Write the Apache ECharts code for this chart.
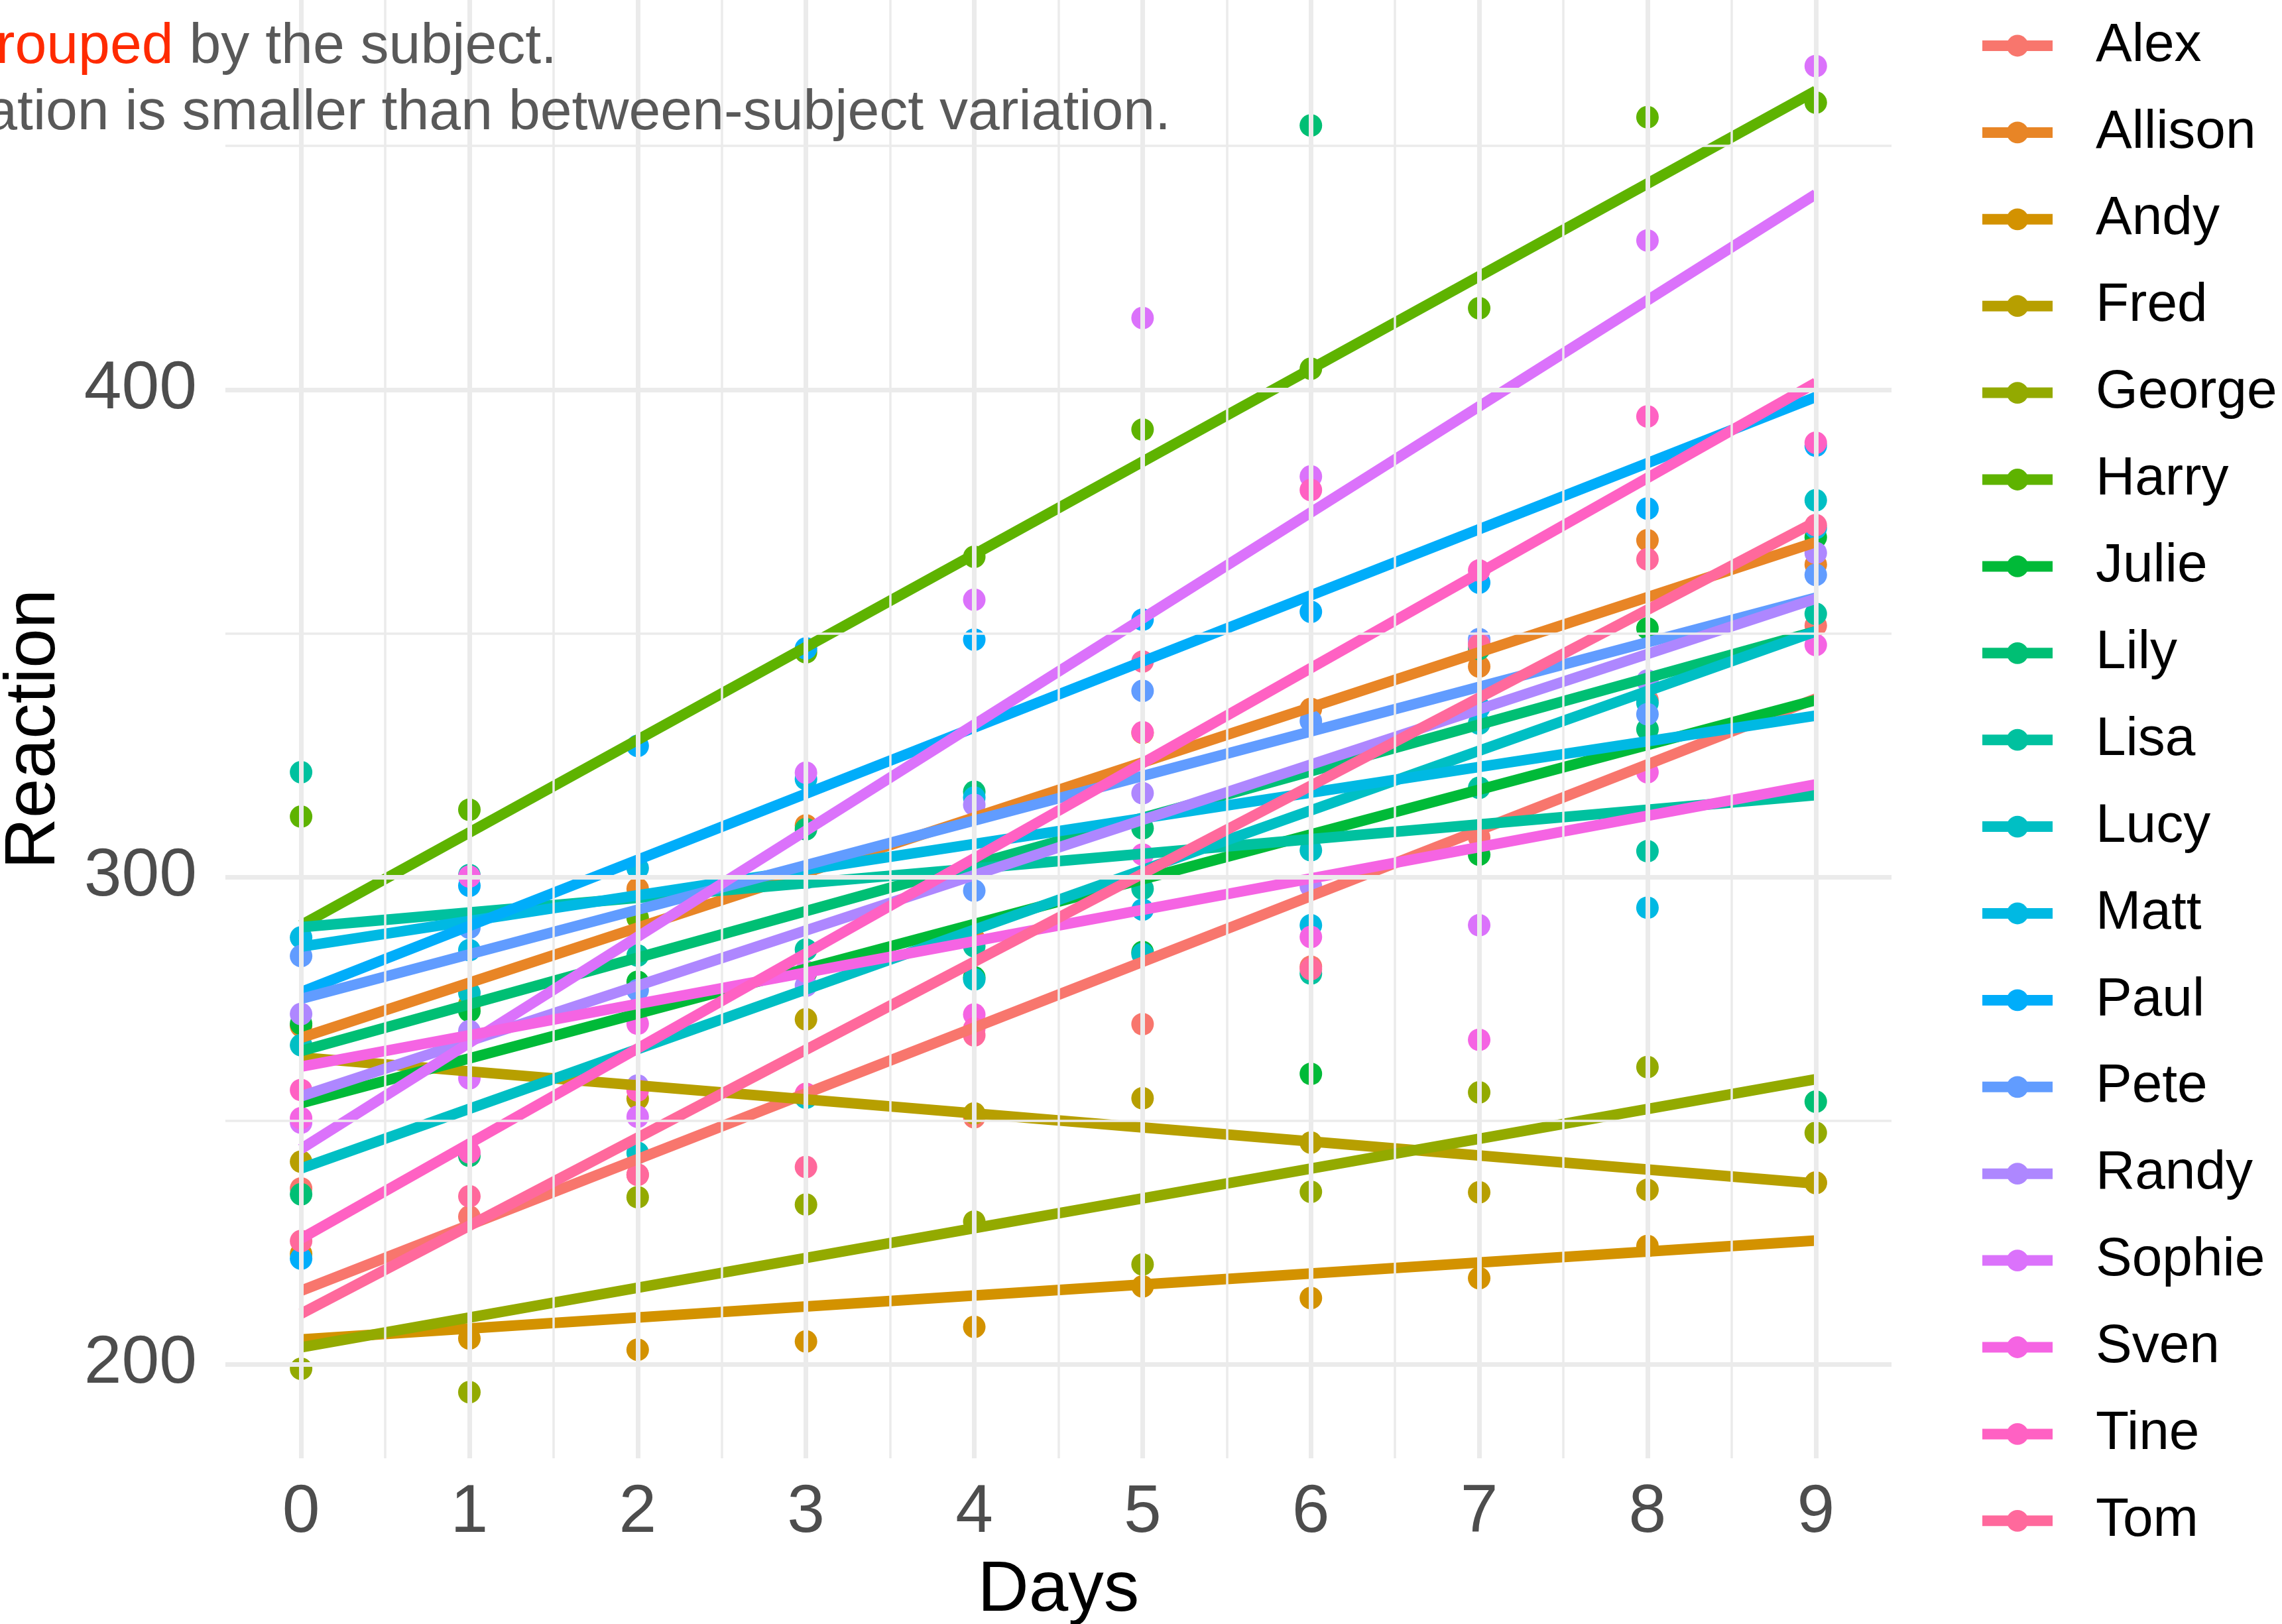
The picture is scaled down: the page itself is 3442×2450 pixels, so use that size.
<!DOCTYPE html>
<html>
<head>
<meta charset="utf-8">
<script src="https://cdn.jsdelivr.net/npm/echarts@6/dist/echarts.min.js"></script>
<style>
  html, body { margin: 0; padding: 0; background: #ffffff; }
  #chart { width: 3442px; height: 2450px; }
</style>
</head>
<body>
<div id="chart"></div>
<script>
// ---------------- data ----------------
const days = [0, 1, 2, 3, 4, 5, 6, 7, 8, 9];
const subjects = ['Alex', 'Allison', 'Andy', 'Fred', 'George', 'Harry', 'Julie', 'Lily', 'Lisa',
                  'Lucy', 'Matt', 'Paul', 'Pete', 'Randy', 'Sophie', 'Sven', 'Tine', 'Tom'];

const reactAlex    = [236.1, 230.3, 238.9, 254.9, 250.7, 269.8, 281.6, 308.1, 336.3, 351.6];
const reactAllison = [269.4, 273.5, 297.6, 310.6, 287.2, 329.6, 334.5, 343.2, 369.1, 364.1];
const reactAndy    = [222.7, 205.3, 203.0, 204.7, 207.7, 216.0, 213.6, 217.7, 224.3, 237.3];
const reactFred    = [241.6, 273.9, 254.5, 270.8, 251.5, 254.6, 245.5, 235.3, 235.8, 237.2];
const reactGeorge  = [199.1, 194.3, 234.3, 232.8, 229.3, 220.5, 235.4, 255.8, 261.0, 247.5];
const reactHarry   = [312.4, 313.8, 291.6, 346.1, 365.7, 391.8, 404.3, 416.7, 455.9, 458.9];
const reactJulie   = [269.9, 272.5, 278.5, 280.4, 279.4, 284.6, 259.6, 304.6, 351.0, 369.7];
const reactLily    = [234.9, 242.8, 273.0, 309.8, 317.5, 310.0, 454.2, 346.8, 330.3, 253.9];
const reactLisa    = [321.5, 300.4, 283.9, 285.1, 285.8, 297.6, 280.2, 318.3, 305.3, 354.0];
const reactLucy    = [265.5, 276.2, 243.4, 254.7, 279.0, 284.2, 305.5, 331.5, 335.7, 377.3];
const reactMatt    = [287.6, 285.0, 301.8, 320.1, 316.3, 293.3, 290.1, 334.8, 293.7, 371.6];
const reactPaul    = [221.7, 298.2, 326.9, 346.9, 348.7, 352.8, 354.4, 360.4, 375.6, 388.5];
const reactPete    = [283.8, 289.6, 276.8, 299.8, 297.2, 338.2, 332.0, 348.8, 333.4, 362.0];
const reactRandy   = [271.9, 268.4, 257.2, 277.7, 314.8, 317.2, 298.1, 348.1, 340.3, 366.5];
const reactSophie  = [249.6, 258.7, 250.8, 321.4, 356.9, 414.7, 382.2, 290.1, 430.6, 466.4];
const reactSven    = [250.5, 300.1, 269.9, 280.6, 271.8, 304.6, 287.7, 266.6, 321.5, 347.6];
const reactTine    = [256.3, 243.5, 256.2, 255.5, 268.9, 329.7, 379.4, 362.9, 394.5, 389.1];
const reactTom     = [225.3, 234.5, 238.9, 240.5, 267.5, 344.2, 281.1, 347.6, 365.2, 372.2];

const reactions = [reactAlex, reactAllison, reactAndy, reactFred, reactGeorge, reactHarry,
                   reactJulie, reactLily, reactLisa, reactLucy, reactMatt, reactPaul,
                   reactPete, reactRandy, reactSophie, reactSven, reactTine, reactTom];

// fitted line values at day 0 and day 9
const fitStart = [215.1, 267.0, 205.1, 263.0, 203.5, 290.1, 253.6, 264.3, 289.7,
                  240.2, 285.7, 276.4, 275.0, 255.0, 244.2, 261.1, 225.8, 210.4];
const fitEnd   = [336.6, 368.7, 225.4, 237.1, 258.5, 461.3, 336.3, 350.4, 316.8,
                  350.4, 333.1, 398.5, 357.3, 357.1, 440.1, 319.0, 401.4, 372.9];

const xTicks = [0, 1, 2, 3, 4, 5, 6, 7, 8, 9];
const yTicks = [200, 300, 400];
const xMinor = [0.5, 1.5, 2.5, 3.5, 4.5, 5.5, 6.5, 7.5, 8.5];
const yMinor = [250, 350, 450];

// ---------------- style ----------------
function hclHex(h, c, l) {
  const hr = h * Math.PI / 180;
  const u = c * Math.cos(hr), v = c * Math.sin(hr);
  const Y = Math.pow((l + 16) / 116, 3);
  const un = 0.1978398, vn = 0.4683363;
  const up = u / (13 * l) + un, vp = v / (13 * l) + vn;
  const X = Y * 9 * up / (4 * vp);
  const Z = Y * (12 - 3 * up - 20 * vp) / (4 * vp);
  const lin = [
    3.240479 * X - 1.537150 * Y - 0.498535 * Z,
    -0.969256 * X + 1.875992 * Y + 0.041556 * Z,
    0.055648 * X - 0.204043 * Y + 1.057311 * Z
  ];
  return '#' + lin.map(cv => {
    let g = cv <= 0.0031308 ? 12.92 * cv : 1.055 * Math.pow(Math.max(cv, 0), 1 / 2.4) - 0.055;
    g = Math.min(1, Math.max(0, g));
    return Math.round(g * 255).toString(16).padStart(2, '0');
  }).join('');
}
const colors = subjects.map((s, i) => hclHex(15 + i * 360 / subjects.length, 100, 65));

const FONT = '"Liberation Sans", Arial, Helvetica, sans-serif';
const GRID_COLOR = '#EBEBEB';

// ---------------- series ----------------
const gridLines = [];
xTicks.forEach(v => gridLines.push({ xAxis: v, lineStyle: { color: GRID_COLOR, width: 7, type: 'solid' } }));
xMinor.forEach(v => gridLines.push({ xAxis: v, lineStyle: { color: GRID_COLOR, width: 3.5, type: 'solid' } }));
yTicks.forEach(v => gridLines.push({ yAxis: v, lineStyle: { color: GRID_COLOR, width: 7, type: 'solid' } }));
yMinor.forEach(v => gridLines.push({ yAxis: v, lineStyle: { color: GRID_COLOR, width: 3.5, type: 'solid' } }));

const series = [];
subjects.forEach((name, i) => {
  series.push({
    type: 'line', name: name,
    data: [[days[0], fitStart[i]], [days[days.length - 1], fitEnd[i]]],
    symbol: 'none', showSymbol: false,
    lineStyle: { color: colors[i], width: 16, cap: 'butt' },
    itemStyle: { color: colors[i] },
    z: 3, silent: true, animation: false
  });
});
subjects.forEach((name, i) => {
  series.push({
    type: 'scatter', name: name,
    data: days.map((d, j) => [d, reactions[i][j]]),
    symbol: 'circle', symbolSize: 34,
    itemStyle: { color: colors[i], opacity: 1 },
    z: 2, silent: true, animation: false
  });
});
series.push({
  type: 'scatter', name: '__grid', data: [], z: 0, silent: true, animation: false,
  markLine: { silent: true, symbol: ['none', 'none'], label: { show: false }, animation: false, data: gridLines }
});

const option = {
  backgroundColor: '#ffffff',
  animation: false,
  grid: { left: 339.9, right: 589, top: 0, bottom: 250, containLabel: false, outerBoundsMode: 'none' },
  xAxis: {
    type: 'value', min: -0.45, max: 9.45,
    axisLine: { show: false }, axisTick: { show: false }, splitLine: { show: false },
    axisLabel: { customValues: xTicks, fontSize: 102, fontFamily: FONT, color: '#4D4D4D', margin: 32 },
    name: 'Days', nameLocation: 'middle', nameGap: 147,
    nameTextStyle: { fontSize: 107, fontFamily: FONT, color: '#000000' }
  },
  yAxis: {
    type: 'value', min: 180.73, max: 479.95,
    axisLine: { show: false }, axisTick: { show: false }, splitLine: { show: false },
    axisLabel: { customValues: yTicks, fontSize: 102, fontFamily: FONT, color: '#4D4D4D', margin: 43 },
    name: 'Reaction', nameLocation: 'middle', nameGap: 234,
    nameTextStyle: { fontSize: 107, fontFamily: FONT, color: '#000000' }
  },
  legend: {
    orient: 'vertical', left: 2982, top: 28, padding: 0,
    itemWidth: 106, itemHeight: 41, itemGap: 48.9,
    data: subjects,
    lineStyle: { width: 16 },
    textStyle: { fontSize: 82, fontFamily: FONT, color: '#000000', padding: [0, 0, 0, 60] }
  },
  graphic: [
    {
      type: 'text', x: 840, y: 71, silent: true, z: 100,
      style: {
        text: '{g|Data points are }{r|grouped}{g| by the subject.}',
        align: 'right', verticalAlign: 'middle',
        font: '86px ' + FONT,
        rich: {
          g: { fill: '#595959', fontSize: 86, fontFamily: FONT },
          r: { fill: '#FF2A00', fontSize: 86, fontFamily: FONT }
        }
      }
    },
    {
      type: 'text', x: 1766, y: 171, silent: true, z: 100,
      style: {
        text: 'Within-subject variation is smaller than between-subject variation.',
        align: 'right', verticalAlign: 'middle',
        fill: '#595959', fontSize: 86, fontFamily: FONT
      }
    }
  ],
  series: series
};

const chart = echarts.init(document.getElementById('chart'), null, { renderer: 'canvas' });
chart.setOption(option);
</script>
</body>
</html>
